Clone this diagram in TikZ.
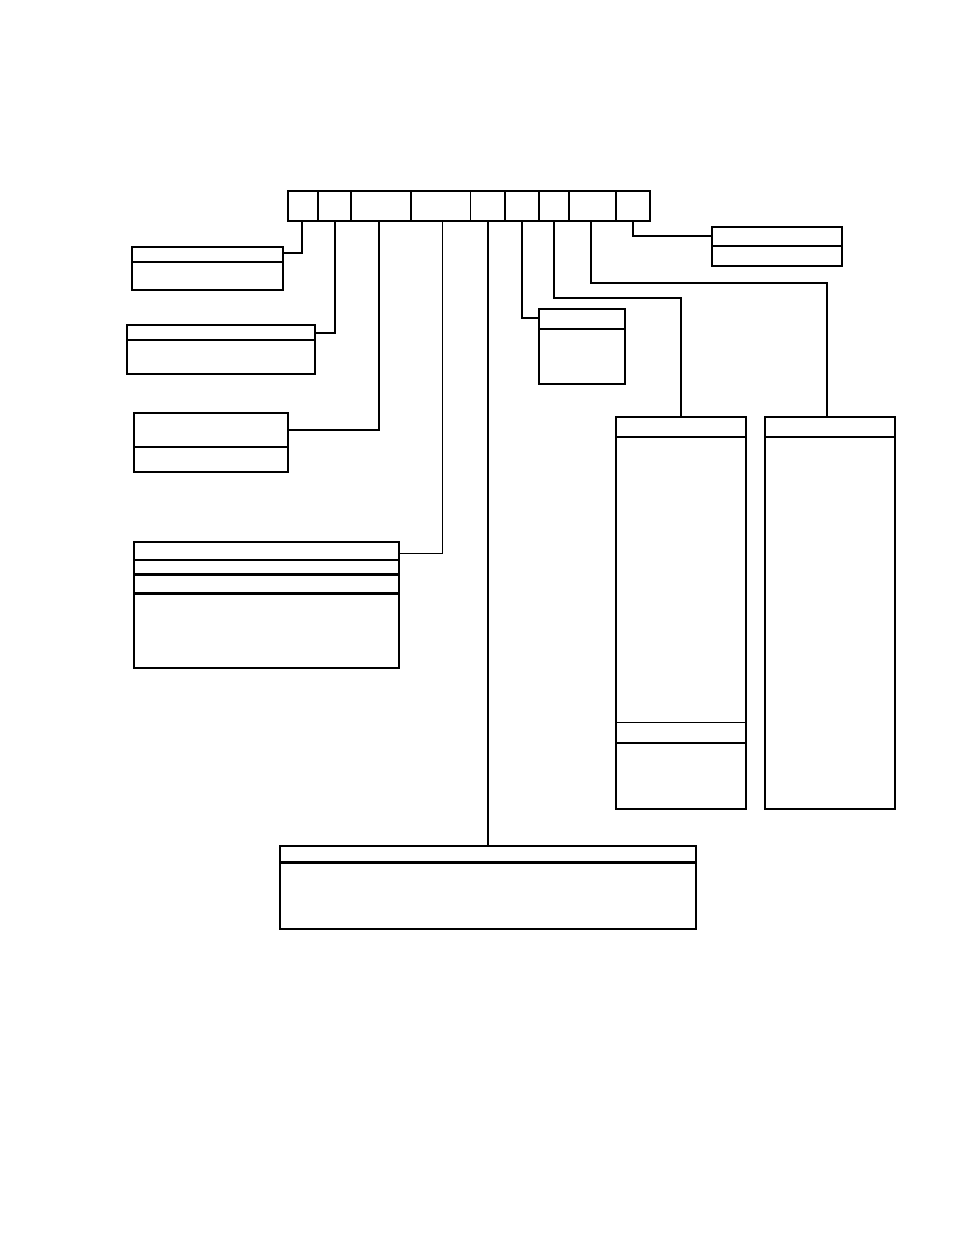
\documentclass[tikz,border=0pt]{standalone}
\usepackage{tikz}
\begin{document}
\begin{tikzpicture}[x=1pt, y=-1pt,
	cell/.style={rectangle,
		anchor = north west,
		inner sep = 0pt,
		outer sep = 0pt,
		minimum height = 30pt},
	box/.style={rectangle,
		draw = black,
		fill = white,
		anchor = north west,
		line width = 2pt,
		inner sep = 0pt,
		outer sep = 0pt},
	link/.style={draw = black, line width = 2pt},
	thinlink/.style={draw = black, line width = 1pt},
	heavy/.style={draw = black, line width = 3pt}]

	\useasboundingbox (0,0) rectangle (954,1235);

	% record fields
	\node[cell, minimum width = 30pt] (f1) at (288,191) {};
	\node[cell, minimum width = 33pt] (f2) at (318,191) {};
	\node[cell, minimum width = 60pt] (f3) at (351,191) {};
	\node[cell, minimum width = 59pt] (f4) at (411,191) {};
	\node[cell, minimum width = 35pt] (f5) at (470,191) {};
	\node[cell, minimum width = 34pt] (f6) at (505,191) {};
	\node[cell, minimum width = 30pt] (f7) at (539,191) {};
	\node[cell, minimum width = 47pt] (f8) at (569,191) {};
	\node[cell, minimum width = 34pt] (f9) at (616,191) {};

	\draw[link] (f1.north west) rectangle (f9.south east);
	\foreach \c in {f1,f2,f3,f5,f6,f7,f8}
		\draw[link] (\c.north east) -- (\c.south east);
	\draw[thinlink] (f4.north east) -- (f4.south east);

	% detail boxes
	\node[box, minimum width = 151pt, minimum height = 43pt] (d1) at (132,247) {};
	\node[box, minimum width = 188pt, minimum height = 49pt] (d2) at (127,325) {};
	\node[box, minimum width = 154pt, minimum height = 59pt] (d3) at (134,413) {};
	\node[box, minimum width = 265pt, minimum height = 126pt] (d4) at (134,542) {};
	\node[box, minimum width = 86pt, minimum height = 75pt] (d5) at (539,309) {};
	\node[box, minimum width = 130pt, minimum height = 392pt] (d6) at (616,417) {};
	\node[box, minimum width = 130pt, minimum height = 392pt] (d7) at (765,417) {};
	\node[box, minimum width = 130pt, minimum height = 39pt] (d8) at (712,227) {};
	\node[box, minimum width = 416pt, minimum height = 83pt] (d9) at (280,846) {};

	% dividers
	\draw[link] ([yshift=-15pt]d1.north west) -- ([yshift=-15pt]d1.north east);
	\draw[link] ([yshift=-15pt]d2.north west) -- ([yshift=-15pt]d2.north east);
	\draw[link] ([yshift=-34pt]d3.north west) -- ([yshift=-34pt]d3.north east);
	\draw[link] ([yshift=-18pt]d4.north west) -- ([yshift=-18pt]d4.north east);
	\draw[heavy] ([yshift=-32pt]d4.north west) -- ([yshift=-32pt]d4.north east);
	\draw[heavy] ([yshift=-51pt]d4.north west) -- ([yshift=-51pt]d4.north east);
	\draw[link] ([yshift=-20pt]d5.north west) -- ([yshift=-20pt]d5.north east);
	\draw[link] ([yshift=-20pt]d6.north west) -- ([yshift=-20pt]d6.north east);
	\draw[thinlink] ([yshift=-305pt]d6.north west) -- ([yshift=-305pt]d6.north east);
	\draw[link] ([yshift=-326pt]d6.north west) -- ([yshift=-326pt]d6.north east);
	\draw[link] ([yshift=-20pt]d7.north west) -- ([yshift=-20pt]d7.north east);
	\draw[link] ([yshift=-19pt]d8.north west) -- ([yshift=-19pt]d8.north east);
	\draw[heavy] ([yshift=-16pt]d9.north west) -- ([yshift=-16pt]d9.north east);

	% connectors
	\draw[link] ([xshift=-1pt]f1.south) |- ([yshift=-6pt]d1.north east);
	\draw[link] (f2.south) |- ([yshift=-8pt]d2.north east);
	\draw[link] ([xshift=-2pt]f3.south) |- ([yshift=-17pt]d3.north east);
	\draw[thinlink] ([xshift=1.5pt]f4.south) |- ([yshift=-11pt]d4.north east);
	\draw[link] (f5.south) -- (f5.south |- d9.north);
	\draw[link] (f6.south) |- ([yshift=-9pt]d5.north west);
	\draw[link] (f7.south) -- ++(0,77) -| (d6.north);
	\draw[link] ([xshift=-1.5pt]f8.south) -- ++(0,62) -| ([xshift=-3pt]d7.north);
	\draw[link] (f9.south) |- ([yshift=-9pt]d8.north west);

\end{tikzpicture}
\end{document}
